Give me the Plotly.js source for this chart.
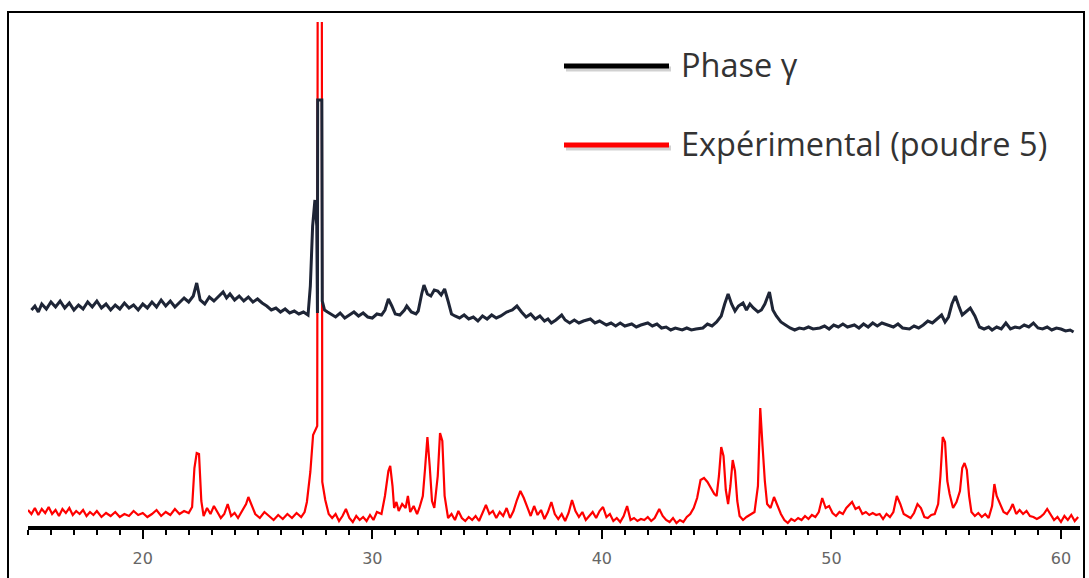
<!DOCTYPE html>
<html>
<head>
<meta charset="utf-8">
<script src="https://cdn.plot.ly/plotly-3.0.1.min.js"></script>
<style>
  html, body { margin: 0; padding: 0; background: #ffffff; }
  #chart { width: 1089px; height: 578px; }
</style>
</head>
<body>
<div id="chart"></div>
<script>
// Diffractogrammes : phase γ de référence (décalée vers le haut) et poudre 5 mesurée.

// 2θ (°) et intensité, poudre 5
const twoThetaExp = [
  15.0, 15.15, 15.3, 15.45, 15.6, 15.75, 15.9, 16.05, 16.2, 16.35, 16.5, 16.65, 16.8, 16.95, 17.1, 17.25, 17.4, 17.55, 17.7, 17.85,
  18.0, 18.2, 18.4, 18.6, 18.8, 19.0, 19.2, 19.4, 19.6, 19.8, 20.0, 20.2, 20.4, 20.6, 20.8, 21.0, 21.2, 21.4, 21.6, 21.8,
  22.0, 22.15, 22.25, 22.35, 22.45, 22.55, 22.65, 22.8, 22.95, 23.1, 23.25, 23.4, 23.55, 23.7, 23.85, 24.0, 24.15, 24.3, 24.5, 24.6,
  24.75, 24.9, 25.1, 25.3, 25.5, 25.7, 25.9, 26.1, 26.3, 26.5, 26.7, 26.9, 27.05, 27.15, 27.3, 27.42, 27.6, 27.62, 27.8, 27.82,
  27.95, 28.1, 28.25, 28.4, 28.55, 28.7, 28.85, 29.0, 29.15, 29.3, 29.45, 29.6, 29.75, 29.9, 30.05, 30.2, 30.4, 30.55, 30.7, 30.78,
  30.88, 30.95, 31.05, 31.15, 31.3, 31.45, 31.55, 31.65, 31.8, 31.95, 32.05, 32.2, 32.3, 32.4, 32.5, 32.6, 32.7, 32.85, 32.95, 33.05,
  33.15, 33.3, 33.45, 33.6, 33.75, 33.9, 34.05, 34.2, 34.35, 34.5, 34.65, 34.8, 34.95, 35.1, 35.25, 35.4, 35.55, 35.7, 35.85, 36.0,
  36.15, 36.3, 36.45, 36.6, 36.75, 36.9, 37.05, 37.2, 37.35, 37.5, 37.65, 37.8, 37.95, 38.1, 38.25, 38.4, 38.55, 38.7, 38.85, 39.0,
  39.15, 39.3, 39.45, 39.6, 39.75, 39.9, 40.05, 40.2, 40.35, 40.5, 40.65, 40.8, 40.95, 41.1, 41.25, 41.4, 41.55, 41.7, 41.85, 42.0,
  42.15, 42.3, 42.5, 42.65, 42.8, 42.95, 43.1, 43.25, 43.4, 43.55, 43.7, 43.85, 44.0, 44.15, 44.3, 44.45, 44.6, 44.75, 44.9, 45.0,
  45.1, 45.2, 45.3, 45.4, 45.5, 45.6, 45.7, 45.8, 45.9, 46.0, 46.15, 46.3, 46.5, 46.65, 46.8, 46.9, 47.0, 47.1, 47.2, 47.35,
  47.5, 47.65, 47.8, 47.95, 48.1, 48.25, 48.4, 48.55, 48.7, 48.85, 49.0, 49.15, 49.3, 49.45, 49.6, 49.75, 49.9, 50.05, 50.2, 50.35,
  50.5, 50.65, 50.8, 50.9, 51.05, 51.2, 51.35, 51.5, 51.65, 51.8, 51.95, 52.1, 52.25, 52.4, 52.55, 52.7, 52.85, 53.0, 53.15, 53.3,
  53.45, 53.6, 53.75, 53.9, 54.05, 54.2, 54.35, 54.5, 54.65, 54.75, 54.85, 54.95, 55.05, 55.15, 55.3, 55.45, 55.6, 55.7, 55.8, 55.9,
  56.0, 56.1, 56.25, 56.4, 56.55, 56.7, 56.85, 57.0, 57.1, 57.2, 57.35, 57.5, 57.65, 57.8, 57.9, 58.05, 58.2, 58.35, 58.5, 58.65,
  58.8, 58.95, 59.1, 59.25, 59.4, 59.55, 59.7, 59.85, 60.0, 60.15, 60.3, 60.45, 60.6, 60.75
];
const intensityExp = [
  16, 12, 18, 11, 17, 13, 19, 12, 16, 10, 17, 13, 18, 11, 15, 12, 16, 10, 14, 11,
  15, 9, 13, 10, 14, 9, 12, 10, 15, 11, 13, 9, 12, 16, 10, 14, 11, 17, 12, 15,
  13, 19, 58, 73, 72, 25, 10, 18, 12, 20, 14, 8, 12, 22, 10, 13, 8, 14, 22, 29,
  20, 12, 8, 14, 10, 6, 11, 7, 12, 8, 13, 9, 14, 24, 54, 91, 100, 540, 540, 44,
  26, 12, 8, 12, 5, 10, 17, 8, 4, 10, 6, 9, 5, 11, 6, 14, 12, 30, 55, 60,
  40, 18, 24, 15, 22, 18, 30, 14, 20, 12, 18, 30, 58, 89, 60, 25, 18, 50, 93, 85,
  30, 8, 12, 6, 15, 8, 5, 9, 6, 10, 5, 13, 21, 12, 15, 8, 14, 10, 18, 8,
  15, 26, 35, 28, 18, 10, 20, 11, 16, 7, 14, 24, 12, 7, 12, 5, 13, 26, 15, 9,
  14, 6, 10, 14, 8, 15, 19, 9, 12, 5, 8, 4, 10, 20, 6, 8, 5, 7, 6, 9,
  5, 8, 17, 10, 6, 4, 8, 3, 6, 4, 9, 12, 18, 28, 46, 48, 44, 38, 32, 30,
  50, 79, 70, 36, 22, 40, 66, 55, 25, 10, 6, 9, 12, 14, 40, 118, 80, 45, 22, 18,
  29, 20, 12, 6, 3, 7, 5, 8, 6, 10, 7, 11, 9, 14, 28, 18, 20, 13, 10, 14,
  12, 18, 22, 24, 17, 19, 12, 14, 11, 13, 11, 12, 7, 12, 9, 14, 30, 22, 12, 10,
  8, 13, 22, 18, 9, 8, 11, 12, 22, 50, 89, 84, 45, 32, 18, 24, 35, 58, 63, 56,
  30, 14, 10, 13, 9, 12, 8, 20, 42, 30, 22, 14, 12, 17, 22, 12, 16, 12, 15, 10,
  9, 7, 9, 12, 17, 11, 6, 9, 4, 10, 6, 11, 5, 9
];

// 2θ (°) et intensité, phase γ (avec le décalage vertical déjà appliqué)
const twoThetaRef = [
  15.15, 15.3, 15.45, 15.6, 15.8, 16.0, 16.2, 16.4, 16.6, 16.8, 17.0, 17.2, 17.4, 17.6, 17.8, 18.0, 18.2, 18.4, 18.6, 18.8,
  19.0, 19.2, 19.4, 19.6, 19.8, 20.0, 20.2, 20.4, 20.6, 20.8, 21.0, 21.2, 21.4, 21.6, 21.8, 22.0, 22.2, 22.35, 22.5, 22.7,
  22.9, 23.1, 23.3, 23.5, 23.65, 23.8, 24.0, 24.2, 24.4, 24.6, 24.8, 25.0, 25.2, 25.4, 25.6, 25.8, 26.0, 26.2, 26.4, 26.6,
  26.8, 27.0, 27.2, 27.3, 27.4, 27.5, 27.58, 27.61, 27.62, 27.8, 27.82, 27.92, 28.05, 28.2, 28.4, 28.6, 28.8, 29.0, 29.2,
  29.4, 29.6, 29.8, 30.0, 30.2, 30.4, 30.55, 30.7, 30.85, 31.0, 31.2, 31.4, 31.5, 31.7, 31.9, 32.0, 32.15, 32.25, 32.4, 32.55,
  32.7, 32.85, 33.0, 33.15, 33.3, 33.45, 33.6, 33.8, 34.0, 34.2, 34.4, 34.6, 34.8, 35.0, 35.2, 35.4, 35.6, 35.85, 36.1, 36.3,
  36.5, 36.7, 36.9, 37.1, 37.3, 37.5, 37.65, 37.8, 38.0, 38.25, 38.4, 38.6, 38.8, 39.0, 39.2, 39.5, 39.7, 39.9, 40.2, 40.4,
  40.6, 40.8, 41.0, 41.3, 41.5, 41.7, 42.0, 42.2, 42.4, 42.6, 42.8, 43.0, 43.2, 43.5, 43.7, 43.9, 44.1, 44.4, 44.6, 44.8,
  45.0, 45.2, 45.35, 45.5, 45.65, 45.8, 45.95, 46.15, 46.3, 46.45, 46.6, 46.8, 46.95, 47.1, 47.3, 47.45, 47.6, 47.8, 48.0, 48.2,
  48.4, 48.6, 48.8, 49.0, 49.2, 49.5, 49.7, 49.9, 50.1, 50.3, 50.5, 50.7, 51.0, 51.2, 51.4, 51.6, 51.8, 52.0, 52.2, 52.5,
  52.7, 52.9, 53.1, 53.4, 53.6, 53.8, 54.0, 54.2, 54.4, 54.6, 54.8, 54.95, 55.1, 55.25, 55.4, 55.55, 55.7, 55.85, 56.05, 56.25,
  56.45, 56.65, 56.85, 57.0, 57.2, 57.4, 57.6, 57.8, 58.0, 58.2, 58.4, 58.6, 58.8, 59.0, 59.2, 59.4, 59.6, 59.8, 60.0, 60.2,
  60.4, 60.55
];
const intensityRef = [
  216, 220, 214, 222, 217, 224, 219, 225, 218, 223, 216, 221, 217, 224, 219, 225, 218, 222, 216, 221,
  217, 223, 218, 221, 216, 222, 218, 224, 219, 226, 220, 225, 219, 224, 228, 224, 230, 243, 226, 222,
  229, 225, 230, 234, 228, 232, 226, 230, 225, 229, 224, 227, 223, 220, 216, 218, 214, 217, 213, 215,
  212, 214, 211, 240, 300, 326, 300, 213, 426, 426, 225, 216, 214, 212, 209, 213, 208, 211, 214,
  210, 213, 209, 208, 212, 211, 216, 227, 220, 212, 211, 216, 220, 214, 212, 215, 232, 241, 232, 230,
  236, 235, 231, 237, 225, 212, 210, 208, 211, 207, 209, 205, 210, 207, 211, 208, 210, 214, 216, 220,
  214, 209, 212, 207, 210, 205, 207, 203, 206, 211, 206, 203, 206, 203, 205, 207, 203, 205, 201, 203,
  200, 203, 200, 202, 199, 201, 203, 200, 202, 198, 199, 196, 198, 196, 198, 196, 197, 198, 202, 200,
  204, 210, 222, 232, 222, 215, 220, 223, 216, 222, 218, 214, 216, 222, 234, 216, 210, 204, 201, 198,
  196, 198, 197, 199, 197, 198, 200, 197, 201, 199, 202, 199, 201, 198, 202, 199, 203, 200, 203, 201,
  199, 202, 198, 197, 200, 198, 201, 205, 203, 207, 211, 204, 209, 222, 230, 220, 211, 214, 218, 210,
  199, 197, 199, 196, 199, 197, 203, 197, 199, 198, 201, 199, 203, 198, 197, 199, 196, 198, 197, 195,
  196, 194
];

// Légende
const seriesNames = ['Phase γ', 'Expérimental (poudre 5)'];
const seriesColors = ['#1e2536', '#ff0000'];

// Graduations de l'axe 2θ
const tickValues = [20, 30, 40, 50, 60];
const tickLabels = ['20', '30', '40', '50', '60'];

const W = 1089, H = 578;
const M = { l: 28, r: 9, t: 22, b: 52 };
const plotW = W - M.l - M.r, plotH = H - M.t - M.b;
const px = x => (x - M.l) / plotW;          // pixel -> paper (horizontal)
const py = y => (H - M.b - y) / plotH;      // pixel -> paper (vertical)

const traces = [
  {
    x: twoThetaExp, y: intensityExp, type: 'scatter', mode: 'lines',
    name: seriesNames[1], line: { color: seriesColors[1], width: 2.2 }, showlegend: false
  },
  {
    x: twoThetaRef, y: intensityRef, type: 'scatter', mode: 'lines',
    name: seriesNames[0], line: { color: seriesColors[0], width: 3 }, showlegend: false
  }
];

const legendY = [66, 145];
const shapes = [
  // cadre
  { type: 'rect', xref: 'paper', yref: 'paper', x0: px(8), x1: px(1084), y0: py(620), y1: py(12),
    line: { color: '#000', width: 2 }, fillcolor: 'rgba(0,0,0,0)', layer: 'above' }
];
const annotations = [];
seriesNames.forEach((name, i) => {
  // ombre portée du trait
  shapes.push({ type: 'line', xref: 'paper', yref: 'paper', x0: px(566), x1: px(671), y0: py(legendY[i] + 3), y1: py(legendY[i] + 3),
    line: { color: 'rgba(0,0,0,0.18)', width: 5 } });
  shapes.push({ type: 'line', xref: 'paper', yref: 'paper', x0: px(564), x1: px(669), y0: py(legendY[i]), y1: py(legendY[i]),
    line: { color: i === 0 ? '#000000' : seriesColors[i], width: 5 } });
  annotations.push({ xref: 'paper', yref: 'paper', x: px(679), y: py(legendY[i] - 2), xanchor: 'left', yanchor: 'middle',
    text: name, showarrow: false, font: { family: 'Open Sans, sans-serif', size: 32.5, color: '#333333' } });
});

const layout = {
  width: W, height: H, margin: M,
  paper_bgcolor: '#ffffff', plot_bgcolor: '#ffffff',
  showlegend: false,
  xaxis: {
    range: [15.0, 60.83], showgrid: false, zeroline: false,
    showline: true, linecolor: '#000', linewidth: 4,
    ticks: 'outside', ticklen: 9, tickwidth: 2, tickcolor: '#000',
    tickvals: tickValues, ticktext: tickLabels, ticklabelstandoff: 6,
    minor: { dtick: 1, tick0: 0, ticks: 'outside', ticklen: 5, tickwidth: 2, tickcolor: '#000', showgrid: false },
    tickfont: { family: 'DejaVu Sans, sans-serif', size: 16, color: '#666666' }
  },
  yaxis: { range: [0, 504], visible: false, showgrid: false, zeroline: false },
  shapes: shapes,
  annotations: annotations
};

Plotly.newPlot('chart', traces, layout, { displayModeBar: false, staticPlot: true });
</script>
</body>
</html>
